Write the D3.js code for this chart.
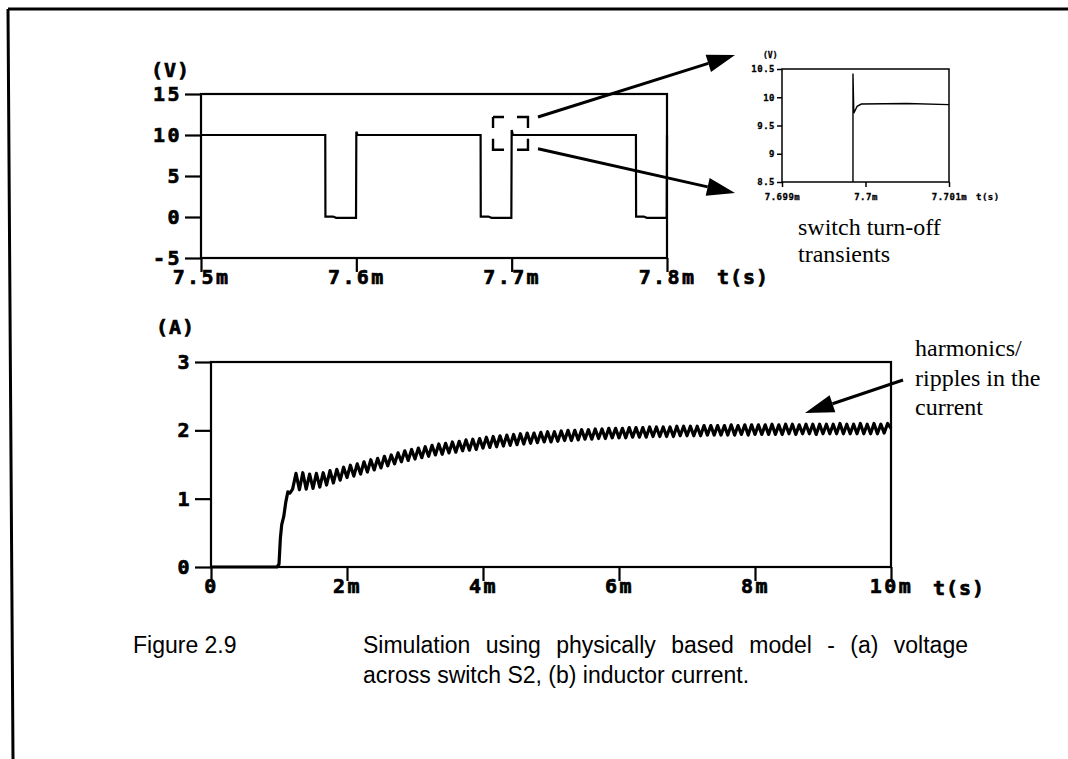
<!DOCTYPE html>
<html>
<head>
<meta charset="utf-8">
<script src="https://cdn.jsdelivr.net/npm/d3@7"></script>
<style>
  body { margin: 0; background: #fff; }
  .probe text { font-family: "DejaVu Sans Mono", monospace; font-weight: bold; fill: #000; stroke: #000; stroke-width: 0.7px; }
  .probe .thin text, .probe text.thin { stroke-width: 0.3px; }
  .note { font-family: "Liberation Serif", "Times New Roman", serif; font-size: 24px; fill: #000; }
  .caption { font-family: "Liberation Sans", Arial, sans-serif; font-size: 23px; fill: #000; }
</style>
</head>
<body>
<div id="fig"></div>
<script>
// (a) voltage across switch S2, time in ms
const voltTime = [7.5, 7.58, 7.5801, 7.585, 7.587, 7.5998, 7.6, 7.6008, 7.68, 7.6801, 7.685, 7.687, 7.6998, 7.7, 7.7008, 7.78, 7.7801, 7.785, 7.787, 7.7998, 7.8]
const voltValue = [10, 10, 0.05, 0.05, -0.1, -0.1, 10.4, 10, 10, 0.05, 0.05, -0.1, -0.1, 10.6, 10, 10, 0.05, 0.05, -0.1, -0.1, 10]
const voltTicks = [-5, 0, 5, 10, 15]
const voltTimeTicks = [7.5, 7.6, 7.7, 7.8]
const zoomBoxTime = [7.688, 7.7105]
const zoomBoxVolt = [8.2, 12.2]

// inset: switch turn-off transient near 7.7m
const zoomTime = [7.699, 7.69985, 7.69985, 7.69986, 7.6999, 7.69995, 7.7005, 7.701]
const zoomValue = [0, 0, 10.42, 9.72, 9.84, 9.88, 9.89, 9.87]
const zoomTicks = [8.5, 9, 9.5, 10, 10.5]
const zoomTimeTicks = [7.699, 7.7, 7.701]

// (b) inductor current, time in ms
const riseTime = [0, 0.97, 1.0, 1.02, 1.04, 1.07, 1.1, 1.13, 1.16]
const riseCurrent = [0, 0, 0.04, 0.42, 0.62, 0.74, 0.95, 1.1, 1.08]
const rippleStart = 1.2
const ripplePeriod = 0.1
const ripplePeak = [
  1.37, 1.38, 1.36, 1.37, 1.38, 1.41, 1.43, 1.46, 1.49, 1.51,
  1.54, 1.57, 1.59, 1.62, 1.64, 1.67, 1.70, 1.72, 1.74, 1.76,
  1.78, 1.80, 1.81, 1.83, 1.84, 1.86, 1.87, 1.88, 1.90, 1.91,
  1.92, 1.93, 1.94, 1.95, 1.96, 1.96, 1.97, 1.98, 1.98, 1.99,
  2.00, 2.00, 2.01, 2.01, 2.02, 2.02, 2.03, 2.03, 2.03, 2.04,
  2.04, 2.04, 2.05, 2.05, 2.05, 2.05, 2.06, 2.06, 2.06, 2.06,
  2.07, 2.07, 2.07, 2.07, 2.08, 2.07, 2.08, 2.08, 2.08, 2.08,
  2.09, 2.08, 2.09, 2.09, 2.08, 2.09, 2.09, 2.09, 2.09, 2.09,
  2.10, 2.09, 2.09, 2.10, 2.09, 2.10, 2.09, 2.10
]
const rippleTrough = [
  1.14, 1.13, 1.14, 1.15, 1.17, 1.20, 1.23, 1.27, 1.31, 1.33,
  1.36, 1.39, 1.42, 1.45, 1.48, 1.51, 1.54, 1.56, 1.58, 1.60,
  1.62, 1.64, 1.65, 1.67, 1.68, 1.70, 1.71, 1.72, 1.74, 1.75,
  1.76, 1.77, 1.78, 1.79, 1.80, 1.81, 1.82, 1.83, 1.83, 1.84,
  1.85, 1.85, 1.86, 1.87, 1.87, 1.88, 1.88, 1.89, 1.89, 1.89,
  1.90, 1.90, 1.90, 1.91, 1.91, 1.91, 1.91, 1.92, 1.92, 1.92,
  1.92, 1.93, 1.93, 1.93, 1.93, 1.93, 1.94, 1.93, 1.94, 1.94,
  1.94, 1.94, 1.94, 1.95, 1.94, 1.95, 1.95, 1.94, 1.95, 1.95,
  1.95, 1.95, 1.95, 1.95, 1.95, 1.95, 1.95, 1.96
]
const currentEnd = [10, 2.03]
const currentTicks = [0, 1, 2, 3]
const currentTimeTicks = [0, 2, 4, 6, 8, 10]

const captionLabel = "Figure 2.9"
const captionLines = [
  "Simulation using physically based model - (a) voltage",
  "across switch S2, (b) inductor current."
]

const width = 1068
const height = 759

const svg = d3.select("#fig").append("svg")
  .attr("width", width)
  .attr("height", height)

// scanned page border (top + left edge only)
svg.append("path")
  .attr("d", "M8,9 L1068,9 M8,9 L13,759")
  .attr("fill", "none")
  .attr("stroke", "#000")
  .attr("stroke-width", 3)

const probe = svg.append("g").attr("class", "probe")

// frame + axes for a probe style plot
function plotFrame(g, x, y, opt) {
  g.append("rect")
    .attr("x", x.range()[0])
    .attr("y", y.range()[1])
    .attr("width", x.range()[1] - x.range()[0])
    .attr("height", y.range()[0] - y.range()[1])
    .attr("fill", "none")
    .attr("stroke", "#000")
    .attr("stroke-width", opt.frame)

  g.append("g")
    .attr("transform", `translate(${x.range()[0]},0)`)
    .call(d3.axisLeft(y).tickValues(opt.yTicks).tickSize(opt.tick).tickPadding(opt.padY).tickFormat(opt.yFmt))
    .call(a => a.select(".domain").remove())
    .call(a => a.selectAll("line").attr("stroke-width", opt.frame))
    .call(a => a.selectAll("text")
      .attr("font-family", null).attr("font-size", null)
      .style("font-size", opt.font + "px").style("letter-spacing", opt.ls + "px"))

  g.append("g")
    .attr("transform", `translate(0,${y.range()[0]})`)
    .call(d3.axisBottom(x).tickValues(opt.xTicks).tickSize(opt.tickX).tickPadding(opt.padX).tickFormat(opt.xFmt))
    .call(a => a.select(".domain").remove())
    .call(a => a.selectAll("line").attr("stroke-width", opt.frame))
    .call(a => a.selectAll("text")
      .attr("font-family", null).attr("font-size", null)
      .style("font-size", opt.font + "px").style("letter-spacing", opt.ls + "px"))
}

function arrow(g, x1, y1, x2, y2, len, half) {
  const a = Math.atan2(y2 - y1, x2 - x1)
  const bx = x2 - len * Math.cos(a)
  const by = y2 - len * Math.sin(a)
  g.append("line")
    .attr("x1", x1).attr("y1", y1).attr("x2", bx).attr("y2", by)
    .attr("stroke", "#000").attr("stroke-width", 3)
  g.append("polygon")
    .attr("points", [
      [x2, y2],
      [bx + half * Math.sin(a), by - half * Math.cos(a)],
      [bx - half * Math.sin(a), by + half * Math.cos(a)]
    ].map(p => p.join(",")).join(" "))
    .attr("fill", "#000")
}

// ---------- (a) voltage ----------
const xV = d3.scaleLinear().domain([7.5, 7.8]).range([201, 667])
const yV = d3.scaleLinear().domain([-5, 15]).range([258, 94])

plotFrame(probe, xV, yV, {
  frame: 2.2, tick: 16, tickX: 14, padY: 3, padX: -2, font: 20, ls: 2.4,
  yTicks: voltTicks, xTicks: voltTimeTicks,
  yFmt: d => String(d), xFmt: d => d + "m"
})

probe.append("path")
  .datum(voltTime.map((t, i) => [t, voltValue[i]]))
  .attr("fill", "none")
  .attr("stroke", "#000")
  .attr("stroke-width", 2.2)
  .attr("d", d3.line().x(d => xV(d[0])).y(d => yV(d[1])))

probe.append("text").attr("x", 151).attr("y", 70).attr("dy", "0.35em")
  .style("font-size", "20px").style("letter-spacing", "1px").text("(V)")
probe.append("text").attr("x", 717).attr("y", yV(-5) + 19).attr("dy", "0.35em")
  .style("font-size", "20px").style("letter-spacing", "1px").text("t(s)")

// dashed zoom window (corner brackets)
const bx0 = xV(zoomBoxTime[0]), bx1 = xV(zoomBoxTime[1])
const by0 = yV(zoomBoxVolt[1]), by1 = yV(zoomBoxVolt[0])
const bw = bx1 - bx0, bh = by1 - by0, arm = 11
probe.append("rect")
  .attr("x", bx0).attr("y", by0).attr("width", bw).attr("height", bh)
  .attr("fill", "none").attr("stroke", "#000").attr("stroke-width", 2.4)
  .attr("stroke-dasharray", [arm, bw - 2 * arm, 2 * arm, bh - 2 * arm, 2 * arm, bw - 2 * arm, 2 * arm, bh - 2 * arm, arm].join(" "))

// ---------- inset ----------
const xZ = d3.scaleLinear().domain([7.699, 7.701]).range([782, 949])
const yZ = d3.scaleLinear().domain([8.5, 10.5]).range([182, 69])

const inset = probe.append("g").attr("class", "thin")
plotFrame(inset, xZ, yZ, {
  frame: 1.5, tick: 5, tickX: 5, padY: 2, padX: 7, font: 9, ls: 0.5,
  yTicks: zoomTicks, xTicks: zoomTimeTicks,
  yFmt: d => String(d), xFmt: d => d + "m"
})

svg.append("clipPath").attr("id", "insetClip")
  .append("rect")
  .attr("x", xZ.range()[0]).attr("y", yZ.range()[1])
  .attr("width", xZ.range()[1] - xZ.range()[0])
  .attr("height", yZ.range()[0] - yZ.range()[1])

inset.append("path")
  .datum(zoomTime.map((t, i) => [t, zoomValue[i]]))
  .attr("clip-path", "url(#insetClip)")
  .attr("fill", "none")
  .attr("stroke", "#000")
  .attr("stroke-width", 1.4)
  .attr("d", d3.line().x(d => xZ(d[0])).y(d => yZ(d[1])))

inset.append("text").attr("x", 763).attr("y", 55).attr("dy", "0.35em")
  .style("font-size", "8px").text("(V)")
inset.append("text").attr("x", 976).attr("y", yZ(8.5) + 12).attr("dy", "0.71em")
  .style("font-size", "9px").style("letter-spacing", "0.5px").text("t(s)")

// arrows from zoom window to inset
arrow(svg, bx1 + 10, by0, xZ.range()[0] - 47, yZ.range()[1] - 14, 28, 9)
arrow(svg, bx1 + 10, by1 - 1, xZ.range()[0] - 47, yZ.range()[0] + 11, 28, 9)

svg.append("text").attr("class", "note").attr("x", 798).attr("y", 235).text("switch turn-off")
svg.append("text").attr("class", "note").attr("x", 798).attr("y", 262).text("transients")

// ---------- (b) inductor current ----------
const xI = d3.scaleLinear().domain([0, 10]).range([211, 891])
const yI = d3.scaleLinear().domain([0, 3]).range([567, 362])

plotFrame(probe, xI, yI, {
  frame: 2.2, tick: 16, tickX: 14, padY: 3, padX: -2, font: 20, ls: 2.4,
  yTicks: currentTicks, xTicks: currentTimeTicks,
  yFmt: d => String(d), xFmt: d => (d === 0 ? "0" : d + "m")
})

const currentPts = riseTime.map((t, i) => [t, riseCurrent[i]])
ripplePeak.forEach((p, k) => {
  const t0 = rippleStart + k * ripplePeriod
  currentPts.push([t0, rippleTrough[k]])
  currentPts.push([t0 + ripplePeriod / 2, p])
})
currentPts.push(currentEnd)

probe.append("path")
  .datum(currentPts)
  .attr("fill", "none")
  .attr("stroke", "#000")
  .attr("stroke-width", 3.2)
  .attr("stroke-linejoin", "round")
  .attr("d", d3.line().x(d => xI(d[0])).y(d => yI(d[1])))

probe.append("text").attr("x", 156).attr("y", 327).attr("dy", "0.35em")
  .style("font-size", "20px").style("letter-spacing", "1px").text("(A)")
probe.append("text").attr("x", 933).attr("y", yI(0) + 21).attr("dy", "0.35em")
  .style("font-size", "20px").style("letter-spacing", "1px").text("t(s)")

svg.append("text").attr("class", "note").attr("x", 915).attr("y", 356).text("harmonics/")
svg.append("text").attr("class", "note").attr("x", 915).attr("y", 386).text("ripples in the")
svg.append("text").attr("class", "note").attr("x", 915).attr("y", 415).text("current")
arrow(svg, 903, 380, 805, 413, 29, 9)

// ---------- caption ----------
svg.append("text").attr("class", "caption").attr("x", 133).attr("y", 653).text(captionLabel)
const cap1 = svg.append("text").attr("class", "caption").attr("x", 363).attr("y", 653).text(captionLines[0])
const gaps = captionLines[0].split(" ").length - 1
cap1.attr("word-spacing", (605 - cap1.node().getComputedTextLength()) / gaps)
svg.append("text").attr("class", "caption").attr("x", 363).attr("y", 683).text(captionLines[1])
</script>
</body>
</html>
